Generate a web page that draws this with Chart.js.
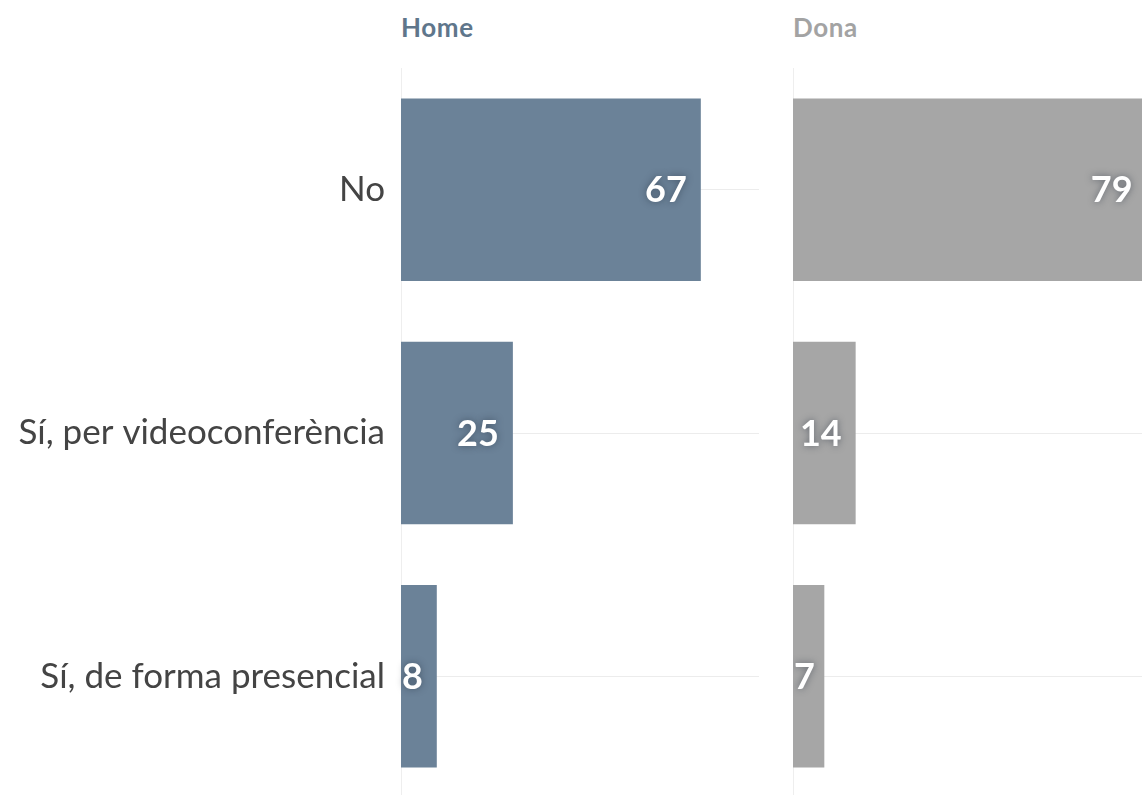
<!DOCTYPE html>
<html>
<head>
<meta charset="utf-8">
<script src="https://cdn.jsdelivr.net/npm/chart.js@4.4.1/dist/chart.umd.min.js"></script>
<style>
  html, body { margin: 0; padding: 0; background: #fff; }
  body { width: 1142px; height: 795px; overflow: hidden; position: relative; font-family: Lato, sans-serif; }
  .panel { position: absolute; top: 0; }
  .title { position: absolute; top: 11px; font-weight: bold; font-size: 26px; letter-spacing: 0.6px; }
</style>
</head>
<body>
<div class="title" id="homeTitle" style="left:401px;color:#5f768b;"></div>
<div class="title" id="donaTitle" style="left:793px;color:#a3a3a3;"></div>
<div class="panel" style="left:0;width:759px;height:830px;"><canvas id="homeChart"></canvas></div>
<div class="panel" style="left:793px;width:358px;height:830px;"><canvas id="donaChart"></canvas></div>
<script>
const categories = ['No', 'Sí, per videoconferència', 'Sí, de forma presencial'];
const homeValues = [67, 25, 8];
const donaValues = [79, 14, 7];
const panelTitles = ['Home', 'Dona'];
const xMax = 80;

document.getElementById('homeTitle').textContent = panelTitles[0];
document.getElementById('donaTitle').textContent = panelTitles[1];

// white value labels inside the bar end, with a soft dark halo
const barValueLabels = {
  id: 'barValueLabels',
  afterDatasetsDraw(chart) {
    const ctx = chart.ctx;
    const meta = chart.getDatasetMeta(0);
    const data = chart.data.datasets[0].data;
    ctx.save();
    ctx.font = 'bold 36px Lato, sans-serif';
    ctx.textBaseline = 'middle';
    ctx.textAlign = 'left';
    ctx.fillStyle = '#fff';
    ctx.shadowColor = 'rgba(30, 40, 55, 0.5)';
    ctx.shadowBlur = 7;
    meta.data.forEach((bar, i) => {
      const text = String(data[i]);
      const w = ctx.measureText(text).width;
      let left = bar.x - 14 - w;
      if (left < bar.base + 1) left = bar.base + 1;
      ctx.fillText(text, left, bar.y + 1);
    });
    ctx.restore();
  }
};

function makePanel(canvasId, values, color, showLabels) {
  return new Chart(document.getElementById(canvasId), {
    type: 'bar',
    data: {
      labels: categories,
      datasets: [{
        data: values,
        backgroundColor: color,
        categoryPercentage: 1,
        barPercentage: 0.75
      }]
    },
    options: {
      indexAxis: 'y',
      responsive: true,
      maintainAspectRatio: false,
      animation: false,
      layout: { padding: { top: 68, bottom: 32, left: 0, right: 0 } },
      plugins: { legend: { display: false }, tooltip: { enabled: false } },
      scales: {
        x: {
          display: false,
          min: 0,
          max: xMax
        },
        y: {
          afterFit(scale) {
            scale.width = showLabels ? 401 : 0;
            scale.paddingTop = 0;
            scale.paddingBottom = 0;
          },
          grid: { offset: false, color: '#ececec', drawTicks: false },
          border: { display: true, color: '#eeeeee' },
          ticks: {
            display: showLabels,
            padding: 16,
            color: '#444',
            font: { family: 'Lato, sans-serif', size: 35 }
          }
        }
      }
    },
    plugins: [barValueLabels]
  });
}

makePanel('homeChart', homeValues, '#6b8298', true);
makePanel('donaChart', donaValues, '#a6a6a6', false);
</script>
</body>
</html>
